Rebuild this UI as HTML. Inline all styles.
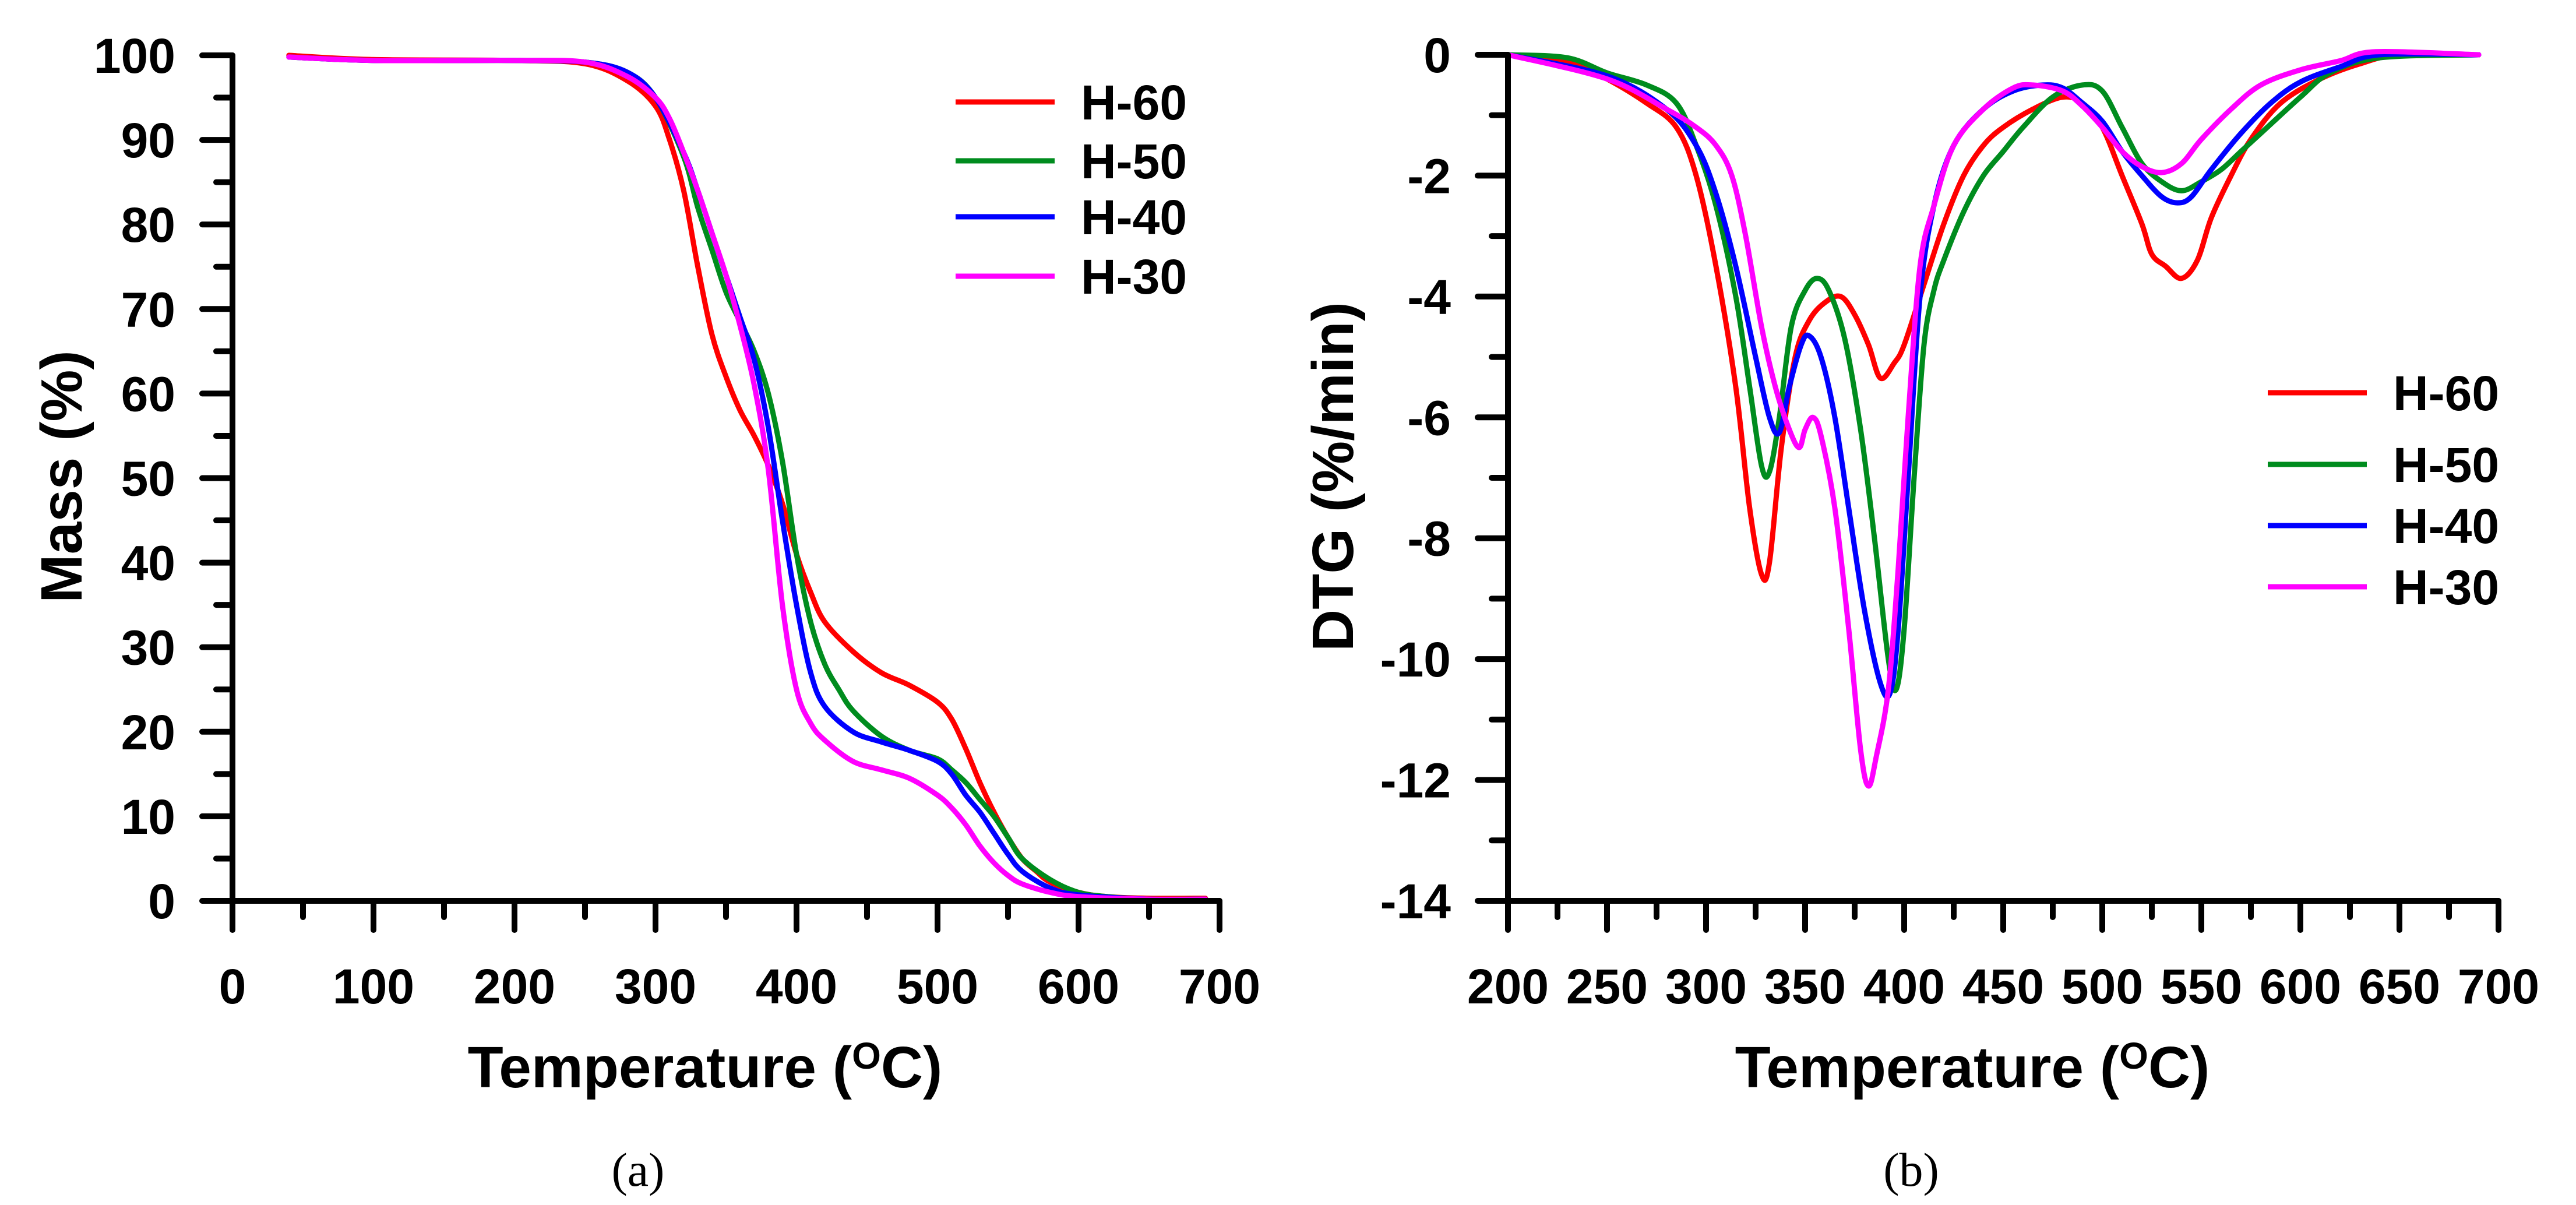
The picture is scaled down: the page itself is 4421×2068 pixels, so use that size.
<!DOCTYPE html>
<html><head><meta charset="utf-8"><style>
html,body{margin:0;padding:0;background:#fff;}
svg{display:block;font-family:"Liberation Sans",Arial,sans-serif;font-weight:bold;}
</style></head><body>
<svg id="fig" width="4421" height="2068" viewBox="0 0 4421 2068" xmlns="http://www.w3.org/2000/svg"></svg>
<script>
// ---- Panel (a) TGA data ----
const tgaH60T=[40,100,200,250,280,300,310,320,330,340,350,360,370,380,390,400,410,420,440,460,480,500,510,520,530,540,550,560,570,580,600,620,650,690];
const tgaH60M=[100,99.5,99.4,99,97,94,90,84,75,67,62,58,55,51.5,47,41,36.5,33,29.5,27,25.5,23.5,21.5,18,14,10.5,7.5,5,3.5,2.2,1,0.5,0.3,0.3];
const tgaH50T=[40,100,200,250,280,300,320,330,340,350,360,370,380,390,400,410,420,430,440,460,480,500,510,520,530,540,550,560,580,600,620,650,690];
const tgaH50M=[99.8,99.4,99.4,99.2,98,95,88,82,77,72,68.5,65,60,52,41,33,28,25,22.5,19.5,17.8,16.8,15.5,14,12,10,7.5,5,2.5,1,0.5,0.2,0.2];
const tgaH40T=[40,100,200,250,280,300,320,330,340,350,360,370,380,390,400,410,420,440,460,480,500,510,520,530,540,550,560,580,600,650,690];
const tgaH40M=[99.8,99.4,99.4,99.2,98,95,88.5,84,79,74,69,64,56,45,35,27,23,20,18.8,17.8,16.5,15,12.5,10.5,8,5.5,3.5,1.5,0.7,0.2,0.2];
const tgaH30T=[40,100,200,250,280,300,310,320,330,340,350,360,370,380,390,400,410,420,440,460,480,500,510,520,530,540,550,560,580,600,650,690];
const tgaH30M=[99.8,99.4,99.4,99.2,97.5,95,92.5,88.5,84,79,74,68,61,51,35,25,21,19,16.5,15.5,14.5,12.5,11,9,6.5,4.5,3,2,1,0.5,0.2,0.2];
// ---- Panel (b) DTG data ----
const dtgH60T=[200,230,250,270,285,295,305,315,322,328,332,338,345,352,360,368,375,382,388,395,400,410,420,430,440,450,465,480,490,500,510,520,525,532,540,548,555,565,575,590,610,630,650,690];
const dtgH60V=[0,-0.1,-0.4,-0.8,-1.2,-2,-3.5,-5.5,-7.5,-8.6,-8.4,-6.5,-5,-4.4,-4.1,-4.0,-4.3,-4.8,-5.35,-5.1,-4.8,-3.8,-2.8,-2,-1.5,-1.2,-0.9,-0.7,-0.8,-1.2,-2,-2.8,-3.3,-3.5,-3.7,-3.4,-2.7,-2,-1.4,-0.8,-0.4,-0.15,0,0];
const dtgH50T=[200,230,250,270,285,295,305,315,322,328,332,337,343,350,356,362,370,378,385,392,396,400,405,410,415,420,430,440,450,460,475,490,500,510,520,530,540,550,560,570,580,600,615,640,690];
const dtgH50V=[0,-0.05,-0.3,-0.5,-0.8,-1.5,-2.5,-4,-5.5,-6.8,-6.9,-6,-4.5,-3.9,-3.7,-3.9,-4.7,-6.2,-8,-10,-10.5,-9.5,-7,-4.8,-3.9,-3.4,-2.6,-2,-1.6,-1.2,-0.7,-0.5,-0.6,-1.2,-1.8,-2.1,-2.25,-2.1,-1.9,-1.6,-1.3,-0.7,-0.3,-0.05,0];
const dtgH40T=[200,250,280,295,305,315,325,332,337,342,348,352,358,365,372,380,388,393,397,402,408,415,425,440,455,470,480,490,500,510,520,530,538,545,555,570,585,600,620,640,690];
const dtgH40V=[0,-0.35,-0.9,-1.5,-2.3,-3.5,-5,-6,-6.25,-5.5,-4.8,-4.65,-5,-6,-7.5,-9.2,-10.4,-10.55,-9.5,-7,-4,-2.5,-1.5,-0.9,-0.6,-0.5,-0.55,-0.8,-1.1,-1.6,-2,-2.35,-2.45,-2.35,-1.9,-1.3,-0.8,-0.45,-0.2,0,0];
const dtgH30T=[200,250,280,295,305,313,320,328,335,342,347,350,354,358,365,372,378,382,386,392,397,402,408,415,425,440,455,465,480,490,500,510,520,530,540,550,565,580,600,620,638,690];
const dtgH30V=[0,-0.4,-0.9,-1.2,-1.5,-2,-3,-4.5,-5.5,-6.2,-6.5,-6.2,-6,-6.3,-7.5,-9.5,-11.5,-12.1,-11.6,-10.5,-8.5,-6,-3.5,-2.5,-1.5,-0.9,-0.55,-0.5,-0.6,-0.85,-1.2,-1.6,-1.85,-1.95,-1.8,-1.4,-0.9,-0.5,-0.25,-0.1,0.05,0];
const seriesNames=["H-60","H-50","H-40","H-30"];
const seriesColors=["#ff0000","#008c1e","#0000ff","#ff00ff"];
const leftXTicks=[0,100,200,300,400,500,600,700];
const leftYTicks=[0,10,20,30,40,50,60,70,80,90,100];
const rightXTicks=[200,250,300,350,400,450,500,550,600,650,700];
const rightYTicks=[0,-2,-4,-6,-8,-10,-12,-14];

const NS="http://www.w3.org/2000/svg";
const svg=document.getElementById('fig');
function mk(tag,attrs,parent){const e=document.createElementNS(NS,tag);for(const k in attrs)e.setAttribute(k,attrs[k]);(parent||svg).appendChild(e);return e;}
function smooth(pts){let d="M"+pts[0][0].toFixed(1)+","+pts[0][1].toFixed(1);
 for(let i=0;i<pts.length-1;i++){const p0=pts[Math.max(0,i-1)],p1=pts[i],p2=pts[i+1],p3=pts[Math.min(pts.length-1,i+2)];
  const c1x=p1[0]+(p2[0]-p0[0])/6,c1y=p1[1]+(p2[1]-p0[1])/6,c2x=p2[0]-(p3[0]-p1[0])/6,c2y=p2[1]-(p3[1]-p1[1])/6;
  d+=` C${c1x.toFixed(1)},${c1y.toFixed(1)} ${c2x.toFixed(1)},${c2y.toFixed(1)} ${p2[0].toFixed(1)},${p2[1].toFixed(1)}`;}
 return d;}

function panel(cfg){
 const g=mk('g',{});
 
 
 const X=v=>cfg.x0+(v-cfg.xmin)/(cfg.xmax-cfg.xmin)*(cfg.x1-cfg.x0);
 const Y=v=>cfg.y0+(v-cfg.ymin)/(cfg.ymax-cfg.ymin)*(cfg.y1-cfg.y0);
 const yb=Math.max(Y(cfg.ymin),Y(cfg.ymax)), yt0=Math.min(Y(cfg.ymin),Y(cfg.ymax)), xl=X(cfg.xmin);
 for(let s=0;s<4;s++){
  const pts=cfg.xs[s].map((t,i)=>[X(t),Y(cfg.ys[s][i])]);
  const p=mk('path',{d:smooth(pts),fill:'none',stroke:seriesColors[s],'stroke-width':9,'stroke-linejoin':'round','stroke-linecap':'round'},g);
  
  
 }
 const ax=mk('path',{d:`M${xl},${yt0} L${xl},${yb} L${X(cfg.xmax)},${yb}`,fill:'none',stroke:'#000','stroke-width':10,'stroke-linecap':'round'},g);
 
 
 const xstep=cfg.xTicks[1]-cfg.xTicks[0];
 for(let v=cfg.xmin; v<=cfg.xmax+0.01; v+=xstep/2){
  const major=cfg.xTicks.some(t=>Math.abs(t-v)<1e-6);
  mk('line',{x1:X(v),y1:yb,x2:X(v),y2:yb+(major?50:28),stroke:'#000','stroke-width':10,'stroke-linecap':'round'},g);
 }
 cfg.xTicks.forEach(v=>{const t=mk('text',{x:X(v),y:yb+176,'font-size':84,'text-anchor':'middle'},g);t.textContent=v;
  
  });
 const ystep=Math.abs(cfg.yTicks[0]-cfg.yTicks[1]);
 const lo=Math.min(cfg.ymin,cfg.ymax),hi=Math.max(cfg.ymin,cfg.ymax);
 for(let v=lo; v<=hi+0.01; v+=ystep/2){
  const major=cfg.yTicks.some(t=>Math.abs(t-v)<1e-6);
  mk('line',{x1:xl,y1:Y(v),x2:xl-(major?52:28),y2:Y(v),stroke:'#000','stroke-width':10,'stroke-linecap':'round'},g);
 }
 cfg.yTicks.forEach(v=>{const t=mk('text',{x:xl-98,y:Y(v)+30,'font-size':84,'text-anchor':'end'},g);t.textContent=v;
  
  });
 const xt=mk('text',{x:cfg.xTitleX,y:1866,'font-size':100,'text-anchor':'middle'},g);
 xt.innerHTML='Temperature (<tspan font-size="64" dy="-32">O</tspan><tspan dy="32">C)</tspan>';
 
 
 const yt=mk('text',{x:0,y:0,'font-size':100,'text-anchor':'middle',transform:`translate(${cfg.yTitleX},818) rotate(-90)`},g);
 yt.textContent=cfg.yTitle;
 
 
 for(let s=0;s<4;s++){
  const ly=cfg.legY[s];
  const lg=mk('g',{},g);
  
  
  mk('line',{x1:cfg.legX,y1:ly,x2:cfg.legX+170,y2:ly,stroke:seriesColors[s],'stroke-width':9},lg);
  const t=mk('text',{x:cfg.legX+215,y:ly+30,'font-size':84},lg);t.textContent=seriesNames[s];
 }
 const cap=mk('text',{x:cfg.capX,y:2035,'font-size':82,'text-anchor':'middle','font-weight':'normal','font-family':'"Liberation Serif",serif'},g);
 cap.textContent=cfg.cap;
 
 
}
panel({name:'tga-chart',x0:399,x1:2093,y0:1546,y1:95,xmin:0,xmax:700,ymin:0,ymax:100,
 xs:[tgaH60T,tgaH50T,tgaH40T,tgaH30T],ys:[tgaH60M,tgaH50M,tgaH40M,tgaH30M],
 xTicks:leftXTicks,yTicks:leftYTicks.slice().reverse(),yTitle:'Mass (%)',yTitleX:140,xTitleX:1210,
 legX:1640,legY:[175,276,372,474],cap:'(a)',capX:1095});
panel({name:'dtg-chart',x0:2588,x1:4288,y0:94,y1:1546,xmin:200,xmax:700,ymin:0,ymax:-14,
 xs:[dtgH60T,dtgH50T,dtgH40T,dtgH30T],ys:[dtgH60V,dtgH50V,dtgH40V,dtgH30V],
 xTicks:rightXTicks,yTicks:rightYTicks,yTitle:'DTG (%/min)',yTitleX:2322,xTitleX:3385,
 legX:3892,legY:[674,797,902,1007],cap:'(b)',capX:3280});
</script>
</body></html>
